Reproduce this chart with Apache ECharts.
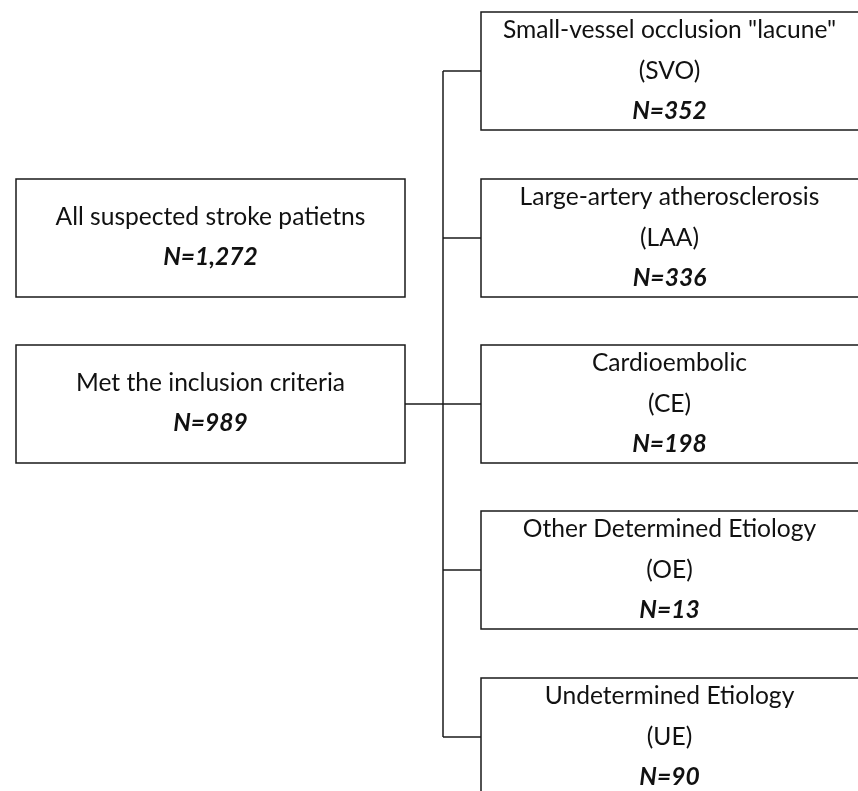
<!DOCTYPE html>
<html>
<head>
<meta charset="utf-8">
<script src="https://cdn.jsdelivr.net/npm/echarts@6/dist/echarts.min.js"></script>
<style>
  html, body { margin: 0; padding: 0; background: #fff; }
  #main { width: 858px; height: 791px; }
</style>
</head>
<body>
<div id="main"></div>
<script>
// 左侧两个框
const leftNames = ['All suspected stroke patietns', 'Met the inclusion criteria'];
const leftCounts = ['1,272', '989'];
// 右侧分型
const subNames = ['Small-vessel occlusion "lacune"', 'Large-artery atherosclerosis', 'Cardioembolic', 'Other Determined Etiology', 'Undetermined Etiology'];
const subCodes = ['SVO', 'LAA', 'CE', 'OE', 'UE'];
const subCounts = ['352', '336', '198', '13', '90'];

// 布局（像素坐标）
const leftBox = { x0: 16, x1: 405, tops: [179, 345], h: 118 };
const rightBox = { x0: 481, x1: 864, tops: [12, 179, 345, 511, 678], h: 118 };
const busX = 443;

const FONT = 'Lato, "Open Sans", sans-serif';
const FS = 24.6;

var myChart = echarts.init(document.getElementById('main'));

// 组装框数据
const boxData = [];
leftNames.forEach((name, i) => {
  boxData.push({ value: [leftBox.x0, leftBox.tops[i], leftBox.x1, leftBox.tops[i] + leftBox.h],
    lines: [name, 'N=' + leftCounts[i]], offs: [38, 78] });
});
subNames.forEach((name, i) => {
  boxData.push({ value: [rightBox.x0, rightBox.tops[i], rightBox.x1, rightBox.tops[i] + rightBox.h],
    lines: [name, '(' + subCodes[i] + ')', 'N=' + subCounts[i]], offs: [18, 59, 99] });
});

// 连接线
const midY = t => t + rightBox.h / 2;
const linkData = [];
linkData.push([leftBox.x1, leftBox.tops[1] + leftBox.h / 2, busX, leftBox.tops[1] + leftBox.h / 2]);
linkData.push([busX, midY(rightBox.tops[0]), busX, midY(rightBox.tops[rightBox.tops.length - 1])]);
rightBox.tops.forEach(t => linkData.push([busX, midY(t), rightBox.x0, midY(t)]));

const option = {
  animation: false,
  grid: { left: 0, right: 0, top: 0, bottom: 0 },
  xAxis: { type: 'value', min: 0, max: 858, show: false },
  yAxis: { type: 'value', min: 0, max: 791, inverse: true, show: false },
  series: [
    {
      type: 'custom',
      coordinateSystem: 'cartesian2d',
      data: linkData,
      renderItem: function (params, api) {
        const p0 = api.coord([api.value(0), api.value(1)]);
        const p1 = api.coord([api.value(2), api.value(3)]);
        return {
          type: 'line',
          shape: { x1: p0[0], y1: p0[1], x2: p1[0], y2: p1[1] },
          style: { stroke: '#1a1a1a', lineWidth: 1.5 }
        };
      }
    },
    {
      type: 'custom',
      coordinateSystem: 'cartesian2d',
      data: boxData,
      renderItem: function (params, api) {
        const item = boxData[params.dataIndex];
        const p0 = api.coord([api.value(0), api.value(1)]);
        const p1 = api.coord([api.value(2), api.value(3)]);
        const cx = (p0[0] + Math.min(p1[0], 858)) / 2;
        const children = [{
          type: 'rect',
          shape: { x: p0[0], y: p0[1], width: p1[0] - p0[0], height: p1[1] - p0[1] },
          style: { fill: '#fff', stroke: '#1a1a1a', lineWidth: 1.5 }
        }];
        item.lines.forEach((txt, k) => {
          const isN = k === item.lines.length - 1;
          children.push({
            type: 'text',
            style: {
              x: cx, y: p0[1] + item.offs[k],
              text: txt,
              align: 'center', verticalAlign: 'middle',
              fontFamily: FONT, fontSize: FS,
              fontWeight: isN ? 'bold' : 'normal',
              fontStyle: isN ? 'italic' : 'normal',
              fill: '#111'
            }
          });
        });
        return { type: 'group', children: children };
      }
    }
  ]
};
myChart.setOption(option);
</script>
</body>
</html>
